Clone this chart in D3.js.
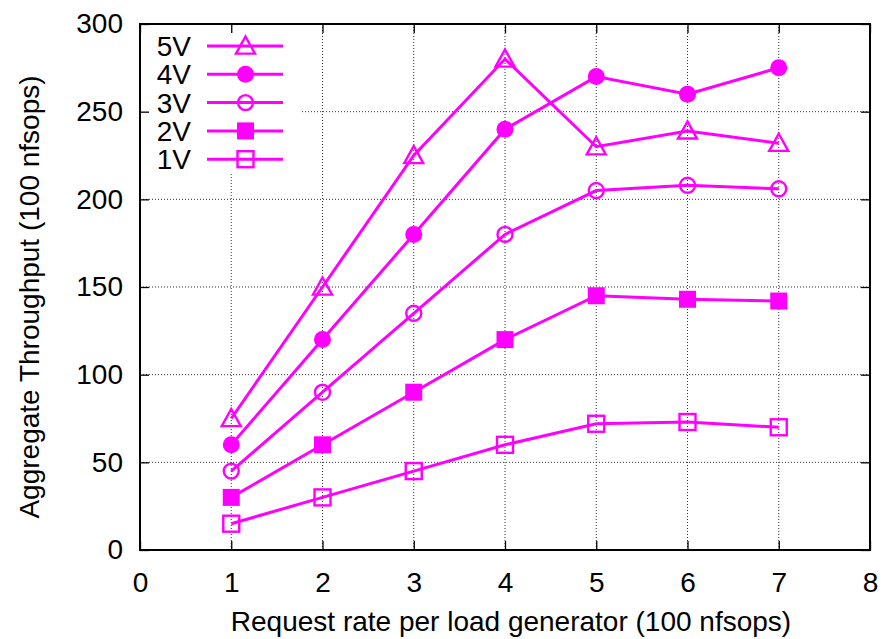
<!DOCTYPE html>
<html>
<head>
<meta charset="utf-8">
<script src="https://cdnjs.cloudflare.com/ajax/libs/d3/7.8.5/d3.min.js"></script>
<style>
  body { margin: 0; background: #fff; }
  svg text { font-family: "Liberation Sans", Arial, sans-serif; fill: #000; }
</style>
</head>
<body>
<div id="chart"></div>
<script>
(function () {

    // request rate per load generator (x values)
    var rates = [1, 2, 3, 4, 5, 6, 7];

    // series names, as in the key (top to bottom)
    var seriesNames = ["5V", "4V", "3V", "2V", "1V"];

    // throughput values per series
    var v5 = [75, 150, 225, 280, 230, 239, 232];
    var v4 = [60, 120, 180, 240, 270, 260, 275];
    var v3 = [45, 90, 135, 180, 205, 208, 206];
    var v2 = [30, 60, 90, 120, 145, 143, 142];
    var v1 = [15, 30, 45, 60, 72, 73, 70];

    var xTicks = [0, 1, 2, 3, 4, 5, 6, 7, 8];
    var yTicks = [0, 50, 100, 150, 200, 250, 300];

    var seriesValues = [v5, v4, v3, v2, v1];
    var markers = ["triangle", "dot", "circle", "square", "box"];
    var color = "#ff00ff";
    var fontSize = 28;

    var width = 885, height = 639;
    var margin = { left: 140, right: 15, top: 24, bottom: 89 };

    var svg = d3.select("#chart").append("svg")
        .attr("width", width)
        .attr("height", height);

    var x = d3.scaleLinear().domain([0, 8]).range([margin.left, width - margin.right]);
    var y = d3.scaleLinear().domain([0, 300]).range([height - margin.bottom, margin.top]);

    var x0 = x.range()[0], x1 = x.range()[1];
    var y0 = y.range()[0], y1 = y.range()[1];

    // grid lines (dotted)
    var grid = svg.append("g").attr("class", "grid");
    grid.selectAll("line.gx")
        .data(xTicks.filter(function (d) { return d > 0 && d < 8; }))
        .enter().append("line")
        .attr("x1", function (d) { return x(d); })
        .attr("x2", function (d) { return x(d); })
        .attr("y1", y0).attr("y2", y1)
        .attr("stroke", "#333").attr("stroke-width", 1)
        .attr("stroke-dasharray", "1,2");
    grid.selectAll("line.gy")
        .data(yTicks.filter(function (d) { return d > 0 && d < 300; }))
        .enter().append("line")
        .attr("x1", x0).attr("x2", x1)
        .attr("y1", function (d) { return y(d); })
        .attr("y2", function (d) { return y(d); })
        .attr("stroke", "#333").attr("stroke-width", 1)
        .attr("stroke-dasharray", "1,2");

    // opaque key box hides the grid behind it
    svg.append("rect")
        .attr("x", x0 + 1).attr("y", y1 + 1)
        .attr("width", 160).attr("height", 149)
        .attr("fill", "#fff");

    // axes, ticks inward and mirrored
    var tickLen = 9;
    var bottom = svg.append("g")
        .attr("transform", "translate(0," + y0 + ")")
        .call(d3.axisBottom(x).tickValues(xTicks).tickSize(-tickLen).tickPadding(tickLen + 13));
    var top = svg.append("g")
        .attr("transform", "translate(0," + y1 + ")")
        .call(d3.axisTop(x).tickValues(xTicks).tickSize(-tickLen).tickFormat(""));
    var left = svg.append("g")
        .attr("transform", "translate(" + x0 + ",0)")
        .call(d3.axisLeft(y).tickValues(yTicks).tickSize(-tickLen).tickPadding(tickLen + 8));
    var right = svg.append("g")
        .attr("transform", "translate(" + x1 + ",0)")
        .call(d3.axisRight(y).tickValues(yTicks).tickSize(-tickLen).tickFormat(""));

    [bottom, top, left, right].forEach(function (g) {
        g.select(".domain").remove();
        g.selectAll(".tick line").attr("stroke", "#000").attr("stroke-width", 1.3);
        g.selectAll("text").attr("font-size", fontSize).style("font-family", "'Liberation Sans', Arial, sans-serif");
    });

    svg.append("rect")
        .attr("x", x0).attr("y", y1)
        .attr("width", x1 - x0).attr("height", y0 - y1)
        .attr("fill", "none").attr("stroke", "#000").attr("stroke-width", 2);

    // axis titles
    svg.append("text")
        .attr("x", 511).attr("y", 631)
        .attr("text-anchor", "middle").attr("font-size", fontSize)
        .text("Request rate per load generator (100 nfsops)");
    svg.append("text")
        .attr("transform", "translate(39,297) rotate(-90)")
        .attr("text-anchor", "middle").attr("font-size", fontSize)
        .text("Aggregate Throughput (100 nfsops)");

    // marker drawing
    function drawMarker(g, type, cx, cy) {
        if (type === "triangle") {
            var s = 9.5;
            g.append("path")
                .attr("d", "M" + cx + "," + (cy - s) + "L" + (cx + s) + "," + (cy + s * 0.8) +
                    "L" + (cx - s) + "," + (cy + s * 0.8) + "Z")
                .attr("fill", "none").attr("stroke", color).attr("stroke-width", 2.4);
        } else if (type === "dot") {
            g.append("circle").attr("cx", cx).attr("cy", cy).attr("r", 8.5).attr("fill", color);
        } else if (type === "circle") {
            g.append("circle").attr("cx", cx).attr("cy", cy).attr("r", 7.5)
                .attr("fill", "none").attr("stroke", color).attr("stroke-width", 2.4);
        } else if (type === "square") {
            g.append("rect").attr("x", cx - 8.5).attr("y", cy - 8.5).attr("width", 17).attr("height", 17)
                .attr("fill", color);
        } else {
            g.append("rect").attr("x", cx - 8).attr("y", cy - 8).attr("width", 16).attr("height", 16)
                .attr("fill", "none").attr("stroke", color).attr("stroke-width", 2.4);
        }
    }

    var line = d3.line()
        .x(function (d) { return x(d[0]); })
        .y(function (d) { return y(d[1]); });

    // draw series from bottom to top
    for (var i = seriesNames.length - 1; i >= 0; i--) {
        var pts = rates.map(function (r, j) { return [r, seriesValues[i][j]]; });
        var g = svg.append("g").attr("class", "series");
        g.append("path")
            .attr("d", line(pts))
            .attr("fill", "none").attr("stroke", color).attr("stroke-width", 3);
        pts.forEach(function (p) { drawMarker(g, markers[i], x(p[0]), y(p[1])); });
    }

    // key
    var key = svg.append("g").attr("class", "key");
    seriesNames.forEach(function (name, i) {
        var ky = 46 + i * 28.3;
        key.append("text")
            .attr("x", 191).attr("y", ky + 10)
            .attr("text-anchor", "end").attr("font-size", fontSize)
            .text(name);
        key.append("line")
            .attr("x1", 207).attr("x2", 283)
            .attr("y1", ky).attr("y2", ky)
            .attr("stroke", color).attr("stroke-width", 3);
        drawMarker(key, markers[i], 245.5, ky);
    });

})();
</script>
</body>
</html>
